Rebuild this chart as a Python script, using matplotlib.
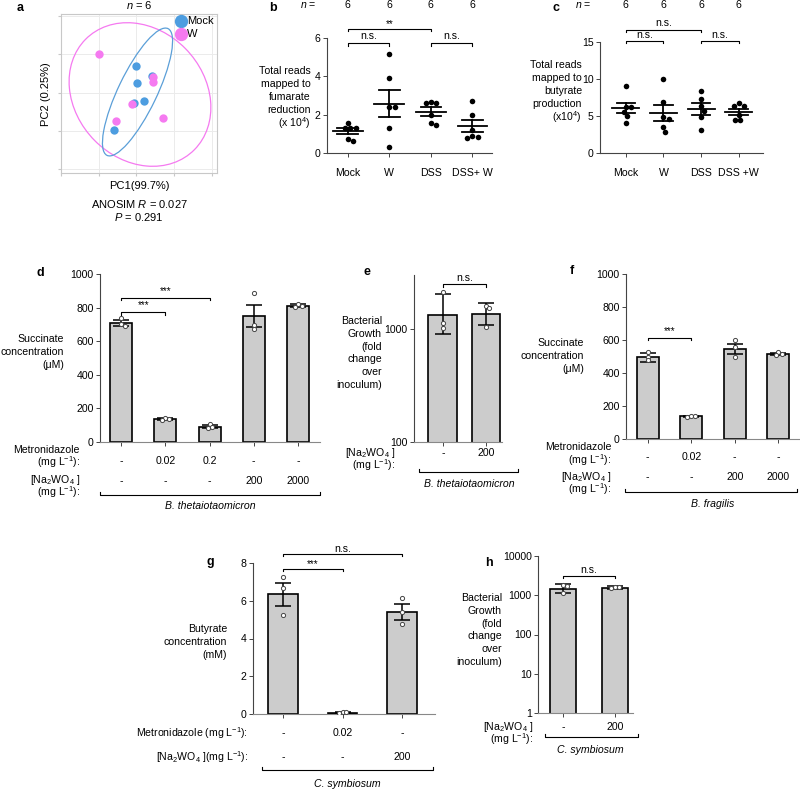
import numpy as np
import matplotlib
matplotlib.use("Agg")
from matplotlib import pyplot as plt
from matplotlib.patches import Ellipse
from matplotlib.lines import Line2D
import matplotlib.transforms as mtransforms

plt.rcParams['font.family'] = ['Liberation Sans', 'DejaVu Sans']
plt.rcParams['mathtext.fontset'] = 'custom'
plt.rcParams['mathtext.rm'] = 'Liberation Sans'
plt.rcParams['mathtext.it'] = 'Liberation Sans:italic'
plt.rcParams['mathtext.bf'] = 'Liberation Sans:bold'
plt.rcParams['axes.linewidth'] = 0.8

# ---------------- data ----------------
# a: PCoA scores (arbitrary units)
pca_mock_x = [74, 75, 90, 82, 72, 52]
pca_mock_y = [107, 90, 97, 72, 70, 43]
pca_w_x = [36, 91, 91, 70, 54, 101]
pca_w_y = [119, 96, 91, 69, 52, 55]

# b, c: reads (x10^4)
groups_b = ["Mock", "W", "DSS", "DSS+ W"]
groups_c = ["Mock", "W", "DSS", "DSS +W"]
fum_mock = [1.56, 1.30, 1.30, 1.30, 0.73, 0.64]
fum_w = [5.14, 3.89, 2.40, 2.40, 1.30, 0.31]
fum_dss = [2.68, 2.62, 2.60, 2.00, 1.47, 1.59]
fum_dssw = [2.73, 1.97, 1.21, 0.90, 0.81, 0.78]
but_mock = [9.05, 6.18, 6.27, 5.60, 5.00, 4.10]
but_w = [9.94, 6.85, 4.84, 4.57, 3.58, 2.87]
but_dss = [8.42, 7.34, 6.36, 5.70, 4.84, 3.09]
but_dssw = [6.70, 6.40, 6.30, 5.20, 4.50, 4.50]

# d: B. thetaiotaomicron succinate (uM)
d_metro = ["-", "0.02", "0.2", "-", "-"]
d_tung = ["-", "-", "-", "200", "2000"]
d_means = [710, 135, 92, 750, 811]
d_err = [18, 6, 8, 67, 8]
d_pts = [[740, 702, 690], [140, 135, 131], [105, 88, 84], [886, 697, 673], [820, 812, 804]]

# e: B. thetaiotaomicron growth
e_tung = ["-", "200"]
e_means = [1330, 1350]
e_lo = [897, 1077]
e_hi = [2026, 1711]
e_pts = [[2140, 1122, 1014], [1599, 1524, 1035]]

# f: B. fragilis succinate (uM)
f_metro = ["-", "0.02", "-", "-"]
f_tung = ["-", "-", "200", "2000"]
f_means = [496, 137, 544, 516]
f_err = [28, 4, 30, 6]
f_pts = [[530, 500, 476], [141, 138, 134], [600, 556, 496], [530, 516, 510]]

# g: C. symbiosum butyrate (mM)
g_metro = ["-", "0.02", "-"]
g_tung = ["-", "-", "200"]
g_means = [6.34, 0.07, 5.40]
g_err = [0.61, 0.02, 0.41]
g_pts = [[7.26, 6.67, 5.25], [0.10, 0.08, 0.06], [6.14, 5.43, 4.78]]

# h: C. symbiosum growth
h_tung = ["-", "200"]
h_means = [1415, 1550]
h_lo = [1165, 1415]
h_hi = [1900, 1720]
h_pts = [[1820, 1750, 1120], [1650, 1580, 1500]]

# ---------------- figure ----------------
W, H = 800, 790
fig = plt.figure(figsize=(8, 7.9), dpi=100)

FS = 7.6
NA = "[Na$_2$WO$_4$ ]"
MG = "(mg L$^{-1}$):"


def box(x0, y0, x1, y1):
    return [x0 / W, 1 - y1 / H, (x1 - x0) / W, (y1 - y0) / H]


def fy(py):
    return 1 - py / H


def ftxt(px, py, s, **kw):
    kw.setdefault('fontsize', FS)
    fig.text(px / W, fy(py), s, **kw)


def swarm(ax, xc, ys, d):
    tr = ax.transData
    x0 = tr.transform((xc, ys[0]))[0]
    placed = []
    out = np.zeros(len(ys))
    for i in np.argsort(ys)[::-1]:
        yd = tr.transform((xc, ys[i]))[1]
        cands = [0.0]
        for (px, py) in placed:
            dy = abs(py - yd)
            if dy < d:
                dx = np.sqrt(d * d - dy * dy)
                cands += [px - x0 + dx, px - x0 - dx]
        cands.sort(key=abs)
        for c in cands:
            if all((x0 + c - px) ** 2 + (yd - py) ** 2 >= d * d - 1e-6 for px, py in placed):
                break
        placed.append((x0 + c, yd))
        out[i] = tr.inverted().transform((x0 + c, yd))[0]
    return out


def sig(ax, x1, x2, y, ydrop, ytxt, label):
    ax.plot([x1, x1, x2, x2], [ydrop, y, y, ydrop], color='k', lw=0.8, clip_on=False)
    ax.text((x1 + x2) / 2, ytxt, label, ha='center', va='center', fontsize=FS if label == 'n.s.' else 7)


def group_line(x0, x1, py, label, ty, cx):
    fig.add_artist(Line2D([x0 / W, x0 / W, x1 / W, x1 / W], [fy(py - 3), fy(py), fy(py), fy(py - 3)],
                          color='k', lw=0.8))
    ftxt(cx, ty, label, ha='center', va='center', style='italic')


def style_bar_axes(ax, xs):
    for s in ['top', 'right']:
        ax.spines[s].set_visible(False)
    ax.spines['left'].set_color('#444444')
    ax.spines['bottom'].set_color('#888888')
    ax.tick_params(axis='both', labelsize=FS, length=3, width=0.7, pad=1.5, colors='#444444', labelcolor='k')
    ax.set_xticks(xs)
    ax.set_xticklabels([])


def bar_panel(ax, means, lo, hi, pts, width=0.5):
    xs = np.arange(len(means))
    ax.bar(xs, means, width=width, color='#cccccc', edgecolor='k', linewidth=1.2, zorder=2)
    yerr = [np.array(means) - np.array(lo), np.array(hi) - np.array(means)]
    ax.errorbar(xs, means, yerr=yerr, fmt='none', ecolor='k', elinewidth=1.1, capsize=5.5, capthick=1.1, zorder=3)
    for x, p in zip(xs, pts):
        px = swarm(ax, x, p, 4.0)
        ax.scatter(px, p, s=9, facecolor='white', edgecolor='#444444', linewidth=0.7, zorder=4)
    return xs


def row_values(ax, xs, vals, py):
    tr = mtransforms.blended_transform_factory(ax.transData, fig.transFigure)
    for x, v in zip(xs, vals):
        ax.text(x, fy(py), v, transform=tr, ha='center', va='center', fontsize=FS)


def two_line(px, py1, py2, s1, s2):
    ftxt(px, py1, s1, ha='right', va='center')
    ftxt(px, py2, s2, ha='right', va='center')


# ---------- a ----------
axa = fig.add_axes(box(61, 14, 217, 173))
axa.set_xlim(0, 156)
axa.set_ylim(0, 159)
axa.set_xticks([-2, 36, 74, 112, 151])
axa.set_yticks([4, 42, 80, 119, 157])
axa.set_xticklabels([])
axa.set_yticklabels([])
axa.grid(True, color='#ebebeb', lw=0.7)
axa.set_axisbelow(True)
for s in axa.spines.values():
    s.set_color('#c8c8c8')
    s.set_linewidth(0.8)
axa.tick_params(length=2.5, color='#c8c8c8')
blue, pink = '#4d9de0', '#f57af0'
axa.add_patch(Ellipse((78, 78.5), 156, 130, angle=-45, fill=False, ec=pink, lw=0.9))
axa.add_patch(Ellipse((75.5, 81), 141, 39, angle=64, fill=False, ec='#5b9fd8', lw=0.9))
h1 = axa.scatter(pca_mock_x, pca_mock_y, s=36, color=blue, zorder=3, linewidths=0)
h2 = axa.scatter(pca_w_x, pca_w_y, s=36, color=pink, zorder=4, linewidths=0)
axa.legend([h1, h2], ["Mock", "W"], loc='upper left', bbox_to_anchor=(175 / W, fy(16)),
           bbox_transform=fig.transFigure, frameon=False, fontsize=8, markerscale=1.6,
           handletextpad=0.05, handlelength=1.0, labelspacing=0.25, borderpad=0, borderaxespad=0)
ftxt(139, 5, "$n$ = 6", ha='center', va='center', fontsize=8)
ftxt(139, 186, "PC1(99.7%)", ha='center', va='center', fontsize=8)
ftxt(139, 204, "ANOSIM $R$ = 0.027", ha='center', va='center', fontsize=8)
ftxt(139, 217, "$P$ = 0.291", ha='center', va='center', fontsize=8)
ftxt(46, 94, "PC2 (0.25%)", ha='center', va='center', rotation=90, fontsize=8)


# ---------- b, c ----------
def dot_panel(ax, groups, ymax, yticks, labels):
    xs = np.arange(len(groups))
    ax.set_ylim(0, ymax)
    style_bar_axes(ax, xs)
    ax.set_yticks(yticks)
    ax.spines['bottom'].set_color('#444444')
    for x, g in zip(xs, groups):
        g = np.array(g)
        m = g.mean()
        se = g.std(ddof=1) / np.sqrt(len(g))
        px = swarm(ax, x, g, 5.5)
        ax.scatter(px, g, s=16, color='k', zorder=3, linewidths=0)
        ax.plot([x - 0.36, x + 0.36], [m, m], color='k', lw=1.3, zorder=4)
        ax.plot([x, x], [m - se, m + se], color='k', lw=1.3, zorder=4)
        for yy in (m - se, m + se):
            ax.plot([x - 0.25, x + 0.25], [yy, yy], color='k', lw=1.3, zorder=4)
    tr = mtransforms.blended_transform_factory(ax.transData, fig.transFigure)
    for x, lab in zip(xs, labels):
        ax.text(x, fy(173), lab, transform=tr, ha='center', va='center', fontsize=FS)
        ax.text(x, fy(5), "6", transform=tr, ha='center', va='center', fontsize=FS)
    return xs


axb = fig.add_axes(box(327, 38, 492, 153))
axb.set_xlim(-0.5, 3.47)
dot_panel(axb, [fum_mock, fum_w, fum_dss, fum_dssw], 6, [0, 2, 4, 6], groups_b)
sig(axb, 0, 2, 6.49, 6.35, 6.72, "**")
sig(axb, 0, 1, 5.74, 5.59, 6.1, "n.s.")
sig(axb, 2, 3, 5.74, 5.59, 6.1, "n.s.")
ftxt(308, 5, "$n$ =", ha='center', va='center')
for i, s in enumerate(["Total reads", "mapped to", "fumarate", "reduction", "(x 10$^4$)"]):
    ftxt(311, 71 + 13 * i, s, ha='right', va='center')

axc = fig.add_axes(box(600, 42, 763, 153))
axc.set_xlim(-0.69, 3.65)
dot_panel(axc, [but_mock, but_w, but_dss, but_dssw], 15, [0, 5, 10, 15], groups_c)
sig(axc, 0, 2, 16.66, 16.3, 17.5, "n.s.")
sig(axc, 0, 1, 15.2, 14.85, 16.0, "n.s.")
sig(axc, 2, 3, 15.2, 14.85, 16.0, "n.s.")
ftxt(583, 5, "$n$ =", ha='center', va='center')
for i, s in enumerate(["Total reads", "mapped to", "butyrate", "production", "(x10$^4$)"]):
    ftxt(582, 65 + 13 * i, s, ha='right', va='center')

# ---------- d ----------
axd = fig.add_axes(box(100, 274, 320, 442))
axd.set_xlim(-0.48, 4.5)
axd.set_ylim(0, 1000)
style_bar_axes(axd, range(5))
axd.set_yticks([0, 200, 400, 600, 800, 1000])
xs = bar_panel(axd, d_means, np.subtract(d_means, d_err), np.add(d_means, d_err), d_pts)
sig(axd, 0, 2, 857, 843, 900, "***")
sig(axd, 0, 1, 771, 757, 815, "***")
two_line(80, 450, 462, "Metronidazole", MG)
row_values(axd, xs, d_metro, 461)
two_line(80, 480, 492, NA, MG)
row_values(axd, xs, d_tung, 481)
group_line(100, 320, 495, "B. thetaiotaomicron", 506, 210)
for i, s in enumerate(["Succinate", "concentration", "(μM)"]):
    ftxt(64, 339 + 13 * i, s, ha='right', va='center')

# ---------- e ----------
axe = fig.add_axes(box(414, 275, 502, 442))
axe.set_yscale('log')
axe.set_xlim(-0.67, 1.37)
axe.set_ylim(100, 3000)
style_bar_axes(axe, range(2))
axe.set_yticks([100, 1000])
axe.set_yticklabels(["100", "1000"])
axe.yaxis.set_minor_locator(matplotlib.ticker.NullLocator())
xs = bar_panel(axe, e_means, e_lo, e_hi, e_pts, width=0.67)
sig(axe, 0, 1, 2485, 2365, 2845, "n.s.")
two_line(395, 453, 465, NA, MG)
row_values(axe, xs, e_tung, 453)
group_line(419, 518, 472, "B. thetaiotaomicron", 484, 469)
for i, s in enumerate(["Bacterial", "Growth", "(fold", "change", "over", "inoculum)"]):
    ftxt(382, 321 + 12.8 * i, s, ha='right', va='center')

# ---------- f ----------
axf = fig.add_axes(box(626, 274, 800, 439))
axf.set_xlim(-0.5, 3.5)
axf.set_ylim(0, 1000)
style_bar_axes(axf, range(4))
axf.set_yticks([0, 200, 400, 600, 800, 1000])
xs = bar_panel(axf, f_means, np.subtract(f_means, f_err), np.add(f_means, f_err), f_pts)
sig(axf, 0, 1, 611, 597, 655, "***")
two_line(611, 447, 460, "Metronidazole", MG)
row_values(axf, xs, f_metro, 457)
two_line(611, 477, 489, NA, MG)
row_values(axf, xs, f_tung, 477)
group_line(625, 797, 492, "B. fragilis", 504, 713)
for i, s in enumerate(["Succinate", "concentration", "(μM)"]):
    ftxt(584, 343 + 13 * i, s, ha='right', va='center')

# ---------- g ----------
axg = fig.add_axes(box(253, 563, 435, 714))
axg.set_xlim(-0.5, 2.55)
axg.set_ylim(0, 8)
style_bar_axes(axg, range(3))
axg.set_yticks([0, 2, 4, 6, 8])
xs = bar_panel(axg, g_means, np.subtract(g_means, g_err), np.add(g_means, g_err), g_pts)
sig(axg, 0, 2, 8.47, 8.35, 8.72, "n.s.")
sig(axg, 0, 1, 7.68, 7.56, 7.95, "***")
ftxt(248, 733, "Metronidazole " + MG, ha='right', va='center')
row_values(axg, xs, g_metro, 733)
ftxt(248, 757, NA + MG, ha='right', va='center')
row_values(axg, xs, g_tung, 757)
group_line(262, 433, 770, "C. symbiosum", 784, 347)
for i, s in enumerate(["Butyrate", "concentration", "(mM)"]):
    ftxt(227, 629 + 13 * i, s, ha='right', va='center')

# ---------- h ----------
axh = fig.add_axes(box(538, 556, 633, 713))
axh.set_yscale('log')
axh.set_xlim(-0.48, 1.35)
axh.set_ylim(1, 10000)
style_bar_axes(axh, range(2))
axh.set_yticks([1, 10, 100, 1000, 10000])
axh.set_yticklabels(["1", "10", "100", "1000", "10000"])
axh.yaxis.set_minor_locator(matplotlib.ticker.NullLocator())
xs = bar_panel(axh, h_means, h_lo, h_hi, h_pts)
sig(axh, 0, 1, 3100, 2700, 4300, "n.s.")
two_line(533, 727, 739, NA, MG)
row_values(axh, xs, h_tung, 727)
group_line(545, 638, 737, "C. symbiosum", 750, 590)
for i, s in enumerate(["Bacterial", "Growth", "(fold", "change", "over", "inoculum)"]):
    ftxt(502, 598 + 12.8 * i, s, ha='right', va='center')

# panel letters
for lab, px, py in [("a", 20, 8), ("b", 273, 8), ("c", 556, 8), ("d", 40, 273),
                    ("e", 367, 272), ("f", 572, 271), ("g", 210, 562), ("h", 489, 563)]:
    ftxt(px, py, lab, ha='center', va='center', fontweight='bold', fontsize=9)

fig.savefig("out.png", dpi=100)
